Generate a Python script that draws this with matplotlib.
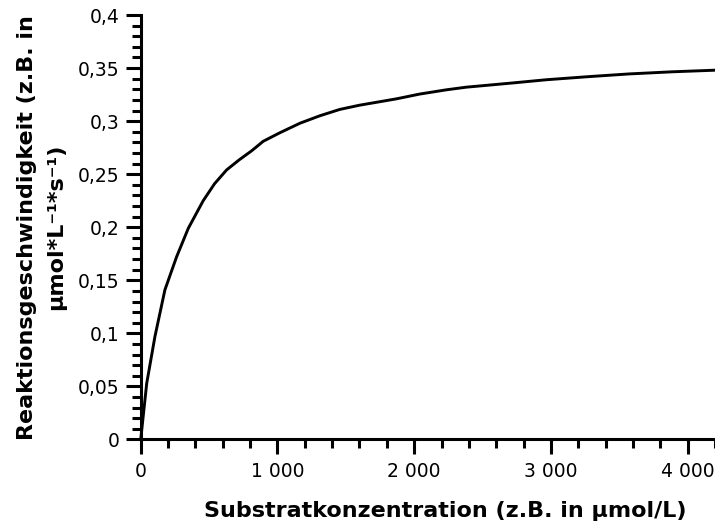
#!/usr/bin/env python3
"""Michaelis-Menten Sättigungskurve (Reaktionsgeschwindigkeit vs. Substratkonzentration)."""

import matplotlib
matplotlib.use("Agg")
import matplotlib.pyplot as plt
from matplotlib.ticker import MultipleLocator, FuncFormatter

# values
substrat = [0, 44, 104, 177, 262, 348, 457, 540, 628, 720, 811, 896, 1017,
            1164, 1309, 1455, 1600, 1870, 2040, 2235, 2381, 2552, 2722, 2966,
            3284, 3574, 3890, 4200]
geschw = [0, 0.053, 0.097, 0.141, 0.172, 0.199, 0.225, 0.241, 0.254, 0.2635,
          0.272, 0.281, 0.289, 0.298, 0.305, 0.311, 0.315, 0.321, 0.3255,
          0.3295, 0.332, 0.334, 0.336, 0.339, 0.342, 0.3445, 0.3465, 0.348]

x_max = 4200
y_max = 0.4


def fmt_x(v, pos):
    return f"{v:,.0f}".replace(",", " ")


def fmt_y(v, pos):
    s = f"{v:.2f}".rstrip("0").rstrip(".")
    return s.replace(".", ",")


def main():
    plt.rcParams['font.family'] = ['DejaVu Sans']
    fig = plt.figure(figsize=(7.15, 5.25), dpi=100)
    ax = fig.add_axes([0.1968, 0.1629, 0.8032, 0.8085])

    ax.plot(substrat, geschw, color='black', linewidth=2.1, solid_joinstyle='round',
            clip_on=False, zorder=3)

    ax.set_xlim(0, x_max)
    ax.set_ylim(0, y_max)

    ax.xaxis.set_major_locator(MultipleLocator(1000))
    ax.xaxis.set_minor_locator(MultipleLocator(200))
    ax.yaxis.set_major_locator(MultipleLocator(0.05))
    ax.yaxis.set_minor_locator(MultipleLocator(0.01))
    ax.xaxis.set_major_formatter(FuncFormatter(fmt_x))
    ax.yaxis.set_major_formatter(FuncFormatter(fmt_y))

    for side in ['top', 'right']:
        ax.spines[side].set_visible(False)
    for side in ['left', 'bottom']:
        ax.spines[side].set_linewidth(2.2)

    ax.tick_params(which='major', direction='out', length=10.5, width=2.2,
                   labelsize=13.5)
    ax.tick_params(axis='x', which='major', pad=6)
    ax.tick_params(axis='y', which='major', pad=5)
    ax.tick_params(which='minor', direction='out', length=6.3, width=2.2)

    ax.set_xlabel('Substratkonzentration (z.B. in µmol/L)', fontsize=16,
                  fontweight='bold', labelpad=14)
    ax.xaxis.label.set_x(0.53)
    ax.set_ylabel('Reaktionsgeschwindigkeit (z.B. in\nµmol*L⁻¹*s⁻¹)', fontsize=16,
                  fontweight='bold', labelpad=8, linespacing=1.62)

    fig.savefig('out.png', dpi=100)


if __name__ == "__main__":
    main()
